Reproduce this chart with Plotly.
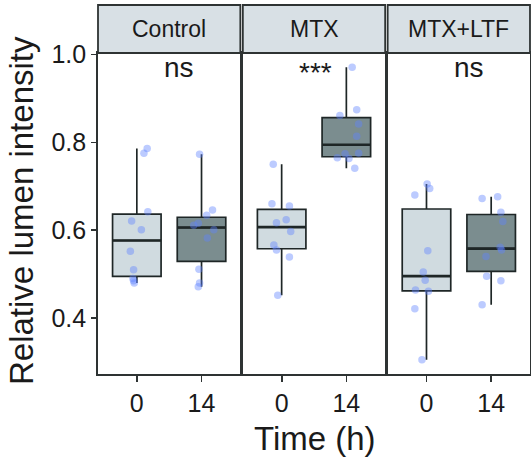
import numpy as np
import plotly.graph_objects as go

panels = ["Control", "MTX", "MTX+LTF"]
times = ["0", "14"]
signif = ["ns", "***", "ns"]

ctrl_0 = [0.786, 0.775, 0.642, 0.621, 0.601, 0.552, 0.510, 0.490, 0.485, 0.480]
ctrl_14 = [0.773, 0.646, 0.634, 0.616, 0.611, 0.601, 0.582, 0.511, 0.480, 0.471]
mtx_0 = [0.750, 0.660, 0.655, 0.617, 0.624, 0.597, 0.566, 0.555, 0.539, 0.452]
mtx_14 = [0.971, 0.874, 0.861, 0.842, 0.814, 0.775, 0.774, 0.765, 0.763, 0.741]
ltf_0 = [0.705, 0.695, 0.680, 0.553, 0.505, 0.486, 0.464, 0.461, 0.421, 0.305]
ltf_14 = [0.672, 0.676, 0.641, 0.620, 0.561, 0.555, 0.540, 0.495, 0.485, 0.430]

# horizontal jitter (in category units) of each dot
jit_ctrl_0 = [0.16, 0.11, 0.17, -0.08, 0.07, -0.10, -0.05, -0.06, -0.05, -0.04]
jit_ctrl_14 = [-0.03, 0.17, 0.08, -0.05, -0.12, 0.19, 0.09, -0.04, -0.03, -0.05]
jit_mtx_0 = [-0.13, -0.15, 0.12, -0.08, 0.07, 0.14, -0.12, -0.08, 0.12, -0.06]
jit_mtx_14 = [0.09, 0.16, -0.10, 0.19, 0.16, 0.19, -0.02, -0.14, 0.04, 0.13]
jit_ltf_0 = [0.01, 0.05, -0.18, 0.02, -0.05, -0.02, -0.17, 0.03, -0.18, -0.07]
jit_ltf_14 = [-0.14, 0.10, 0.15, 0.18, 0.14, 0.16, -0.08, -0.07, 0.15, -0.14]

data = [[ctrl_0, ctrl_14], [mtx_0, mtx_14], [ltf_0, ltf_14]]
jitter = [[jit_ctrl_0, jit_ctrl_14], [jit_mtx_0, jit_mtx_14], [jit_ltf_0, jit_ltf_14]]

FONT = "Liberation Sans, Arial, sans-serif"
fills = ["#D0DBE0", "#7B8D8F"]
LINE = "#1E2626"
BORDER = "#2E3333"
BOX_W = 0.75

W, H = 531, 457
ml, mr, mt, mb = 98, 1, 5, 83
plot_w = W - ml - mr
plot_h = H - mt - mb
strip_h = 48
gap = 2.5
pw = (plot_w - 2 * gap) / 3
ydom_top = (plot_h - strip_h) / plot_h

fig = go.Figure()
layout = dict(
    template="none",
    width=W, height=H,
    margin=dict(l=ml, r=mr, t=mt, b=mb, pad=0, autoexpand=False),
    paper_bgcolor="white", plot_bgcolor="white",
    showlegend=False,
    font=dict(family=FONT, color="#1a1a1a"),
)
shapes = []
annotations = []

for i, panel in enumerate(panels):
    xa = "x" if i == 0 else f"x{i+1}"
    ya = "y" if i == 0 else f"y{i+1}"
    x0 = i * (pw + gap) / plot_w
    x1 = (i * (pw + gap) + pw) / plot_w
    for j, t in enumerate(times):
        vals = np.array(data[i][j])
        q1, med, q3 = np.percentile(vals, [25, 50, 75])
        iqr = q3 - q1
        lo = vals[vals >= q1 - 1.5 * iqr].min()
        hi = vals[vals <= q3 + 1.5 * iqr].max()
        fig.add_trace(go.Box(
            x=[j + 1], q1=[q1], median=[med], q3=[q3],
            lowerfence=[lo], upperfence=[hi],
            width=BOX_W, whiskerwidth=0, boxpoints=False,
            fillcolor=fills[j], line=dict(color=LINE, width=1.7),
            xaxis=xa, yaxis=ya, hoverinfo="skip",
        ))
        # thicker median line, as ggplot draws it
        fig.add_trace(go.Scatter(
            x=[j + 1 - BOX_W / 2, j + 1 + BOX_W / 2], y=[med, med], mode="lines",
            line=dict(color=LINE, width=2.6),
            xaxis=xa, yaxis=ya, hoverinfo="skip",
        ))
    for j, t in enumerate(times):
        xs = [j + 1 + d for d in jitter[i][j]]
        fig.add_trace(go.Scatter(
            x=xs, y=data[i][j], mode="markers",
            marker=dict(color="#5F82FF", size=7.5, opacity=0.42, line=dict(width=0)),
            xaxis=xa, yaxis=ya, hoverinfo="skip",
        ))
    xkey = "xaxis" if i == 0 else f"xaxis{i+1}"
    ykey = "yaxis" if i == 0 else f"yaxis{i+1}"
    layout[xkey] = dict(
        domain=[x0, x1], range=[0.4, 2.6], anchor=ya, automargin=False,
        tickmode="array", tickvals=[1, 2], ticktext=times,
        ticks="outside", ticklen=6, tickwidth=1.7, tickcolor=BORDER,
        tickfont=dict(size=25, family=FONT, color="#1a1a1a"),
        showgrid=False, zeroline=False,
        showline=True, mirror=True, linecolor=BORDER, linewidth=1.8,
        fixedrange=True,
    )
    layout[ykey] = dict(
        domain=[0, ydom_top], range=[0.2725, 1.0035], anchor=xa, automargin=False,
        tickmode="array", tickvals=[0.4, 0.6, 0.8, 1.0],
        ticktext=["0.4", "0.6", "0.8", "1.0"],
        ticks="outside" if i == 0 else "", ticklen=5, tickwidth=1.7, tickcolor=BORDER,
        showticklabels=(i == 0),
        tickfont=dict(size=25, family=FONT, color="#1a1a1a"),
        showgrid=False, zeroline=False,
        showline=True, mirror=True, linecolor=BORDER, linewidth=1.8,
        fixedrange=True,
    )
    # strip
    shapes.append(dict(
        type="rect", xref=f"{xa} domain", yref=f"{ya} domain",
        x0=0, x1=1, y0=1, y1=1 + strip_h / (plot_h - strip_h),
        fillcolor="#D8E0E5", line=dict(color=BORDER, width=1.8), layer="above",
    ))
    annotations.append(dict(
        text=panel, xref=f"{xa} domain", yref=f"{ya} domain",
        x=0.5, y=1 + (strip_h / 2) / (plot_h - strip_h),
        xanchor="center", yanchor="middle", showarrow=False,
        font=dict(size=23, family=FONT, color="#1a1a1a"),
    ))
    annotations.append(dict(
        text=signif[i], xref=xa, yref=ya,
        x=1.52 if signif[i] == "***" else 1.65,
        y=0.958 if signif[i] == "***" else 0.970,
        xanchor="center", yanchor="middle", showarrow=False,
        font=dict(size=28, family=FONT, color="#1a1a1a"),
    ))

annotations.append(dict(
    text="Time (h)", xref="paper", yref="paper",
    x=(315 - ml) / plot_w, y=-(438 - (H - mb)) / plot_h,
    xanchor="center", yanchor="middle", showarrow=False,
    font=dict(size=33, family=FONT, color="#1a1a1a"),
))
annotations.append(dict(
    text="Relative lumen intensity", xref="paper", yref="paper",
    x=(22 - ml) / plot_w, y=((H - mb) - 211) / plot_h,
    xanchor="center", yanchor="middle", showarrow=False, textangle=-90,
    font=dict(size=33, family=FONT, color="#1a1a1a"),
))

layout["shapes"] = shapes
layout["annotations"] = annotations
fig.update_layout(**layout)
fig.write_html("out.html", config={"displayModeBar": False, "staticPlot": True},
               post_script="document.body.style.margin='0px';")
